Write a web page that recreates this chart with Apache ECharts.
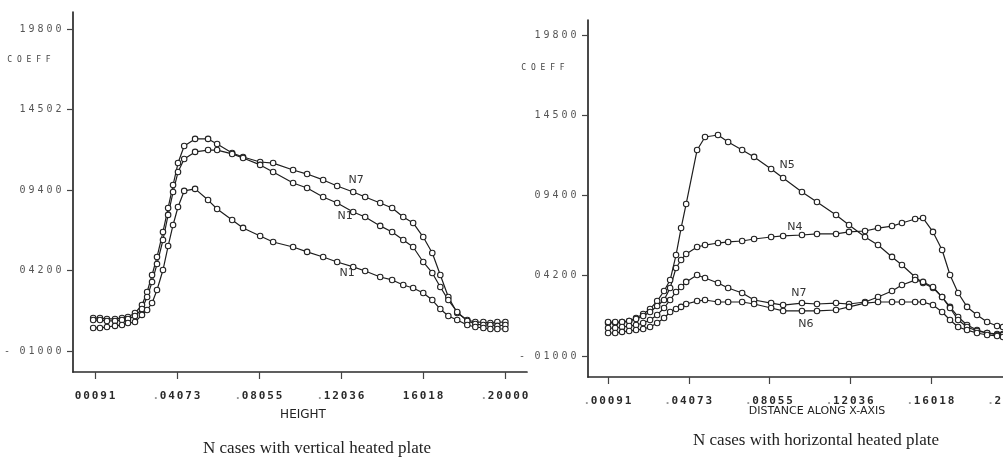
<!DOCTYPE html>
<html>
<head>
<meta charset="utf-8">
<script src="https://cdn.jsdelivr.net/npm/echarts@6/dist/echarts.min.js"></script>
<style>
  html, body { margin: 0; padding: 0; background: #fff; }
  #chart { width: 1003px; height: 461px; }
</style>
</head>
<body>
<div id="chart"></div>
<script>
// printed ticks (the y labels are spaced evenly on the paper, so they sit on an even scale here)
var xTicks = [0.00091, 0.04073, 0.08055, 0.12036, 0.16018, 0.20000];
var xLabelsLeft = ['00091', '.04073', '.08055', '.12036', '16018', '.20000'];
var xLabelsRight = ['.00091', '.04073', '.08055', '.12036', '.16018', '.20000'];
var yTicks = [-1000, 4200, 9400, 14600, 19800];
var yLabelsLeft = ['-01000', '04200', '09400', '14502', '19800'];
var yLabelsRight = ['-01000', '04200', '09400', '14500', '19800'];

// vertical heated plate (HEIGHT)
var heightX = [0.0000, 0.0033, 0.0067, 0.0106, 0.0140, 0.0169, 0.0203, 0.0237, 0.0262, 0.0286, 0.0310,
  0.0339, 0.0364, 0.0388, 0.0412, 0.0442, 0.0495, 0.0558, 0.0602, 0.0675, 0.0728, 0.0811, 0.0874,
  0.0971, 0.1039, 0.1117, 0.1185, 0.1263, 0.1321, 0.1394, 0.1452, 0.1506, 0.1554, 0.1603, 0.1647,
  0.1686, 0.1725, 0.1768, 0.1817, 0.1856, 0.1895, 0.1929, 0.1963, 0.2002];
var vertN7 = [1130, 1130, 1070, 1070, 1130, 1200, 1450, 1970, 2810, 3910, 5070, 6690, 8240, 9720, 11140,
  12240, 12700, 12700, 12370, 11790, 11530, 11210, 11140, 10690, 10430, 10050, 9660, 9270, 8950, 8560,
  8240, 7660, 7270, 6360, 5330, 3910, 2490, 1450, 1000, 870, 870, 810, 870, 870];
var vertN1 = [1000, 1000, 940, 940, 1000, 1070, 1260, 1710, 2490, 3460, 4620, 6170, 7790, 9270, 10560,
  11400, 11860, 11980, 11980, 11730, 11470, 11020, 10560, 9850, 9530, 8950, 8560, 7980, 7660, 7080,
  6690, 6170, 5720, 4750, 4040, 3130, 2290, 1520, 940, 740, 680, 680, 620, 680];
var vertN1low = [490, 490, 550, 620, 680, 810, 870, 1330, 1650, 2100, 2940, 4230, 5780, 7140, 8300,
  9340, 9470, 8750, 8170, 7460, 6950, 6430, 6040, 5720, 5400, 5070, 4750, 4430, 4170, 3780, 3590,
  3260, 3070, 2750, 2290, 1710, 1260, 1000, 680, 550, 490, 420, 420, 420];

// horizontal heated plate (DISTANCE ALONG X-AXIS)
var distX = [0.0009, 0.0044, 0.0078, 0.0113, 0.0147, 0.0182, 0.0216, 0.0251, 0.0285, 0.0315, 0.0344,
  0.0369, 0.0394, 0.0448, 0.0487, 0.0551, 0.0601, 0.0670, 0.0729, 0.0813, 0.0872, 0.0965, 0.1039,
  0.1133, 0.1197, 0.1276, 0.1340, 0.1409, 0.1458, 0.1523, 0.1562, 0.1611, 0.1656, 0.1695, 0.1735,
  0.1779, 0.1828, 0.1878, 0.1927, 0.1956];
var horN5 = [1140, 1140, 1200, 1270, 1460, 1720, 2050, 2560, 3210, 3920, 5540, 7290, 8850, 12350, 13190,
  13320, 12870, 12350, 11900, 11120, 10530, 9630, 8980, 8140, 7490, 6710, 6190, 5420, 4900, 4120, 3730,
  3410, 2820, 2180, 1530, 1010, 680, 490, 430, 430];
var horN4 = [1200, 1200, 1200, 1270, 1400, 1590, 1850, 2240, 2630, 3410, 4700, 5220, 5610, 6060, 6190,
  6320, 6390, 6450, 6580, 6710, 6780, 6840, 6910, 6910, 7040, 7100, 7290, 7420, 7620, 7880, 7940, 7040,
  5870, 4250, 3080, 2180, 1660, 1200, 940, 880];
var horN7 = [810, 810, 880, 940, 1010, 1140, 1330, 1660, 2110, 2630, 3150, 3470, 3800, 4250, 4050, 3730,
  3410, 3080, 2630, 2430, 2300, 2430, 2370, 2430, 2370, 2500, 2820, 3210, 3600, 3920, 3800, 3470, 2820,
  2110, 1330, 880, 620, 490, 360, 360];
var horN6 = [490, 490, 560, 620, 680, 750, 880, 1140, 1460, 1850, 2050, 2180, 2370, 2560, 2630, 2500,
  2500, 2500, 2370, 2110, 1920, 1920, 1920, 1980, 2180, 2430, 2500, 2500, 2500, 2500, 2500, 2300, 1850,
  1330, 880, 680, 490, 360, 300, 230];

var myChart = echarts.init(document.getElementById('chart'));

// typewriter style: every character gets its own fixed cell
function typed(s) {
  return s.split('').map(function (ch) {
    if (ch === '.') return '{p|.}';
    if (ch === '-') return '{m|-}';
    return '{d|' + ch + '}';
  }).join('');
}
function cellRich(size, cell, weight, color) {
  var base = { fontFamily: 'DejaVu Sans Mono', fontSize: size, fontWeight: weight, color: color };
  return {
    d: Object.assign({ width: cell, align: 'center' }, base),
    p: Object.assign({ width: 6, align: 'center' }, base, { color: '#999' }),
    m: Object.assign({ width: 14, align: 'left' }, base)
  };
}
function pick(ticks, labels) {
  return function (v) {
    var best = 0;
    for (var i = 0; i < ticks.length; i++) {
      if (Math.abs(ticks[i] - v) < Math.abs(ticks[best] - v)) best = i;
    }
    return typed(labels[best]);
  };
}

function xAxisOf(grid, min, max, labels) {
  return {
    type: 'value', gridIndex: grid, min: min, max: max,
    splitLine: { show: false },
    axisLine: { onZero: false, lineStyle: { color: '#2a2a2a', width: 1.7 } },
    axisTick: { customValues: xTicks, length: 7, lineStyle: { color: '#444', width: 1.2 } },
    axisLabel: {
      customValues: xTicks, margin: 19,
      formatter: pick(xTicks, labels),
      rich: cellRich(11, 8.5, 'bold', '#2a2a2a')
    }
  };
}
function yAxisOf(grid, min, max, labels) {
  return {
    type: 'value', gridIndex: grid, min: min, max: max,
    splitLine: { show: false },
    axisLine: { show: true, onZero: false, lineStyle: { color: '#2a2a2a', width: 1.7 } },
    axisTick: { show: true, customValues: yTicks, length: 6, lineStyle: { color: '#444', width: 1.2 } },
    axisLabel: {
      customValues: yTicks, margin: 10,
      formatter: pick(yTicks, labels),
      rich: cellRich(10, 9, 'normal', '#555')
    }
  };
}

function curve(grid, xs, ys, tagIndex, tag, tagOffset) {
  var data = xs.map(function (x, i) {
    var item = { value: [x, ys[i]] };
    if (i === tagIndex) {
      item.label = {
        show: true, formatter: tag, position: 'inside', offset: tagOffset,
        fontFamily: 'DejaVu Sans', fontSize: 11, color: '#333'
      };
    }
    return item;
  });
  return {
    type: 'line', xAxisIndex: grid, yAxisIndex: grid, data: data,
    symbol: 'circle', symbolSize: 5.5, showAllSymbol: true,
    itemStyle: { color: '#fff', borderColor: '#222', borderWidth: 1.1 },
    lineStyle: { color: '#1e1e1e', width: 1.2 },
    label: { show: false },
    emphasis: { disabled: true }
  };
}

var plainText = function (x, y, text, size, family, extra) {
  return {
    type: 'text', x: x, y: y,
    style: Object.assign({
      text: text, font: size + 'px "' + family + '"', fill: '#333',
      textAlign: 'center', textVerticalAlign: 'middle'
    }, extra || {})
  };
};

myChart.setOption({
  animation: false,
  grid: [
    { left: 73, top: 12, width: 454, height: 360, outerBoundsMode: 'none' },
    { left: 588, top: 20, width: 432, height: 357, outerBoundsMode: 'none' }
  ],
  xAxis: [
    xAxisOf(0, -0.0098, 0.2107, xLabelsLeft),
    xAxisOf(1, -0.0090, 0.2040, xLabelsRight)
  ],
  yAxis: [
    yAxisOf(0, -2357, 20898, yLabelsLeft),
    yAxisOf(1, -2361, 20772, yLabelsRight)
  ],
  series: [
    curve(0, heightX, vertN7, 27, 'N7', [3, -12]),
    curve(0, heightX, vertN1, 27, 'N1', [-8, 4]),
    curve(0, heightX, vertN1low, 27, 'N1', [-6, 6]),
    curve(1, distX, horN5, 20, 'N5', [4, -13]),
    curve(1, distX, horN4, 21, 'N4', [-7, -8]),
    curve(1, distX, horN7, 21, 'N7', [-3, -10]),
    curve(1, distX, horN6, 21, 'N6', [4, 13])
  ],
  graphic: [
    plainText(29, 60, 'C O E F F', 8, 'DejaVu Sans Mono', { fill: '#444' }),
    plainText(543, 68, 'C O E F F', 8, 'DejaVu Sans Mono', { fill: '#444' }),
    plainText(303, 415, 'HEIGHT', 12, 'DejaVu Sans', { fill: '#222' }),
    plainText(817, 411, 'DISTANCE ALONG X-AXIS', 11, 'DejaVu Sans', { fill: '#222' }),
    plainText(317, 449, 'N cases with vertical heated plate', 17, 'Liberation Serif', { fill: '#222' }),
    plainText(816, 441, 'N cases with horizontal heated plate', 17, 'Liberation Serif', { fill: '#222' })
  ]
});
</script>
</body>
</html>
